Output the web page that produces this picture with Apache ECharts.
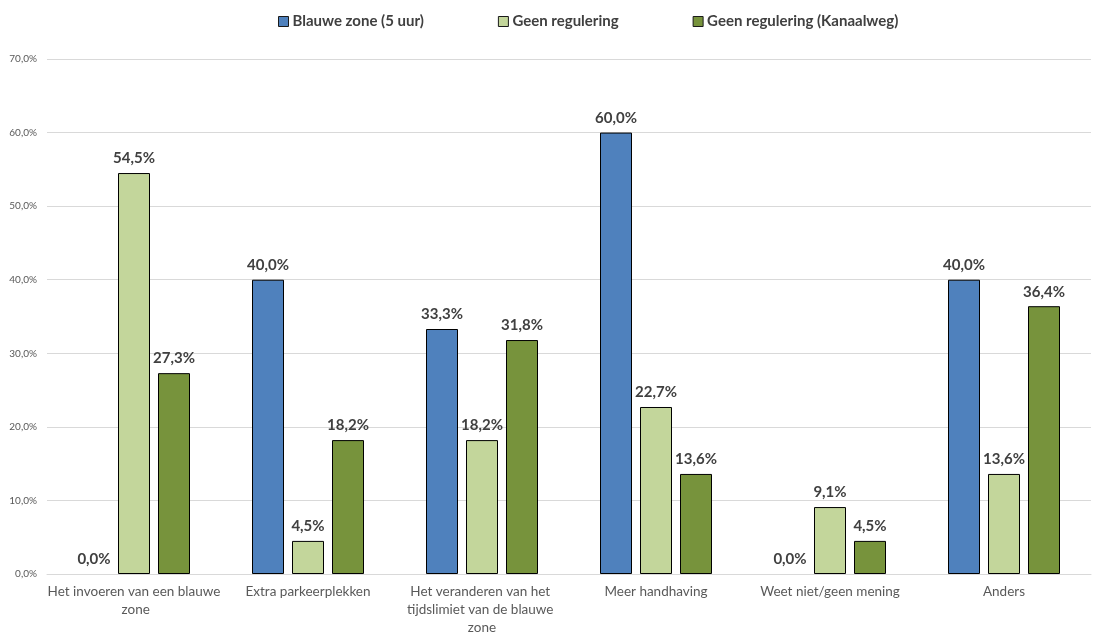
<!DOCTYPE html>
<html>
<head>
<meta charset="utf-8">
<script src="https://cdn.jsdelivr.net/npm/echarts@6/dist/echarts.min.js"></script>
<style>
  html, body { margin: 0; padding: 0; background: #ffffff; }
  #chart { width: 1097px; height: 633px; }
</style>
</head>
<body>
<div id="chart"></div>
<script>
// Survey answers per category, percentages per group
const categories = [
  'Het invoeren van een blauwe zone',
  'Extra parkeerplekken',
  'Het veranderen van het tijdslimiet van de blauwe zone',
  'Meer handhaving',
  'Weet niet/geen mening',
  'Anders'
];
const seriesNames = ['Blauwe zone (5 uur)', 'Geen regulering', 'Geen regulering (Kanaalweg)'];
const blauweZone = [0.0, 40.0, 33.3, 60.0, 0.0, 40.0];
const geenRegulering = [54.5, 4.5, 18.2, 22.7, 9.1, 13.6];
const geenReguleringKanaalweg = [27.3, 18.2, 31.8, 13.6, 4.5, 36.4];

const colors = ['#4F81BD', '#C3D69B', '#77933C'];
const fontFamily = 'Lato, "Open Sans", sans-serif';

const pct = v => v.toFixed(1).replace('.', ',') + '%';

const chart = echarts.init(document.getElementById('chart'), null, { renderer: 'canvas' });

const seriesData = [blauweZone, geenRegulering, geenReguleringKanaalweg];

chart.setOption({
  animation: false,
  textStyle: { fontFamily },
  legend: {
    top: 9,
    left: 273,
    itemGap: 74,
    itemWidth: 10,
    itemHeight: 10,
    icon: 'rect',
    textStyle: { fontSize: 15, fontWeight: 'bold', color: '#404040', fontFamily, padding: [0, 0, 0, -1] },
    data: seriesNames.map((n, i) => ({
      name: n,
      itemStyle: { color: colors[i], borderColor: '#1a1a1a', borderWidth: 1 }
    }))
  },
  grid: { left: 47, right: 6, top: 59, bottom: 59, containLabel: false, outerBoundsMode: 'none' },
  xAxis: {
    type: 'category',
    data: categories,
    axisLine: { lineStyle: { color: '#d9d9d9', width: 1 } },
    axisTick: { show: false },
    axisLabel: {
      color: '#595959',
      fontSize: 13.5,
      fontFamily,
      interval: 0,
      margin: 9,
      width: 175,
      overflow: 'break',
      lineHeight: 18
    }
  },
  yAxis: {
    type: 'value',
    min: 0,
    max: 70,
    interval: 10,
    axisLine: { show: false },
    axisTick: { show: false },
    splitLine: { lineStyle: { color: '#d9d9d9', width: 1 } },
    axisLabel: {
      color: '#595959',
      fontSize: 10,
      fontFamily,
      margin: 10,
      formatter: v => pct(v)
    }
  },
  series: seriesData.map((d, i) => ({
    name: seriesNames[i],
    type: 'bar',
    // zero-height bars get no outline
    data: d.map(v => v === 0 ? { value: v, itemStyle: { borderWidth: 0 } } : v),
    barWidth: 32,
    barGap: '25%',
    itemStyle: { color: colors[i], borderColor: '#000000', borderWidth: 1 },
    label: {
      show: true,
      position: 'top',
      distance: 7,
      color: '#404040',
      fontSize: 15,
      fontWeight: 'bold',
      fontFamily,
      formatter: p => pct(p.value)
    }
  }))
});
</script>
</body>
</html>
